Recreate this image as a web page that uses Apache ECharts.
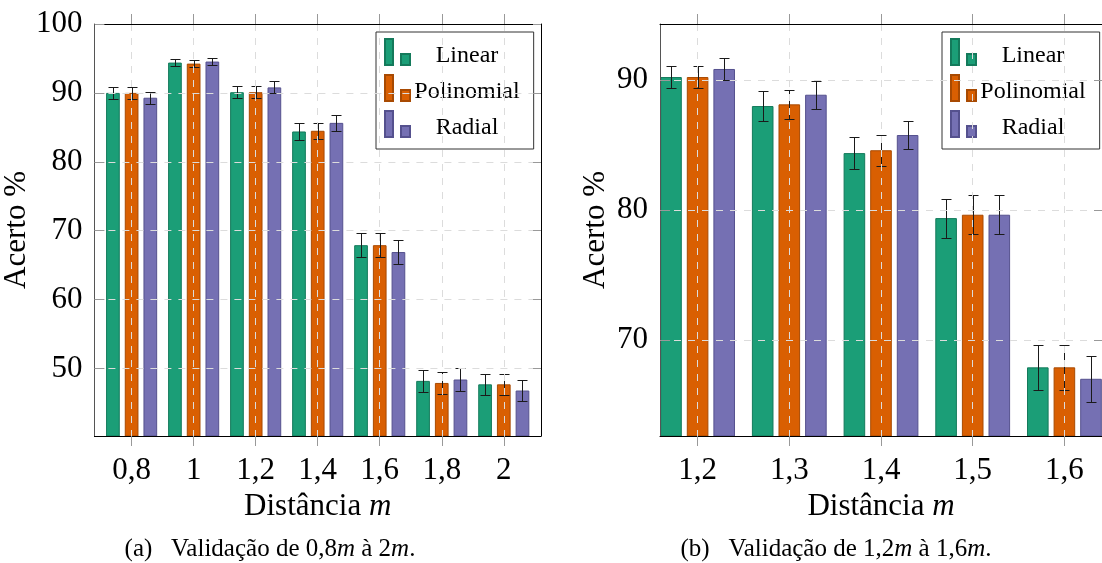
<!DOCTYPE html>
<html><head><meta charset="utf-8">
<script src="https://cdn.jsdelivr.net/npm/echarts@6/dist/echarts.min.js"></script>
<style>html,body{margin:0;padding:0;background:#fff}#c{width:1102px;height:563px}</style>
</head><body><div id="c"></div>
<script>
// ---------- data ----------
const seriesNames = ['Linear', 'Polinomial', 'Radial'];

// (a) Validação de 0,8m à 2m
const distA = [0.8, 1.0, 1.2, 1.4, 1.6, 1.8, 2.0];
const distLabelsA = ['0,8', '1', '1,2', '1,4', '1,6', '1,8', '2'];
const linearA = [90.0, 94.4, 90.1, 84.4, 67.9, 48.2, 47.7];
const linearErrA = [0.88, 0.5, 0.85, 1.2, 1.75, 1.6, 1.5];
const polinomialA = [90.0, 94.25, 90.1, 84.5, 67.9, 47.9, 47.7];
const polinomialErrA = [0.88, 0.48, 0.85, 1.2, 1.75, 1.65, 1.5];
const radialA = [89.3, 94.55, 90.8, 85.65, 66.9, 48.4, 46.8];
const radialErrA = [0.87, 0.5, 0.87, 1.13, 1.8, 1.63, 1.58];
const yTicksA = [50, 60, 70, 80, 90, 100];

// (b) Validação de 1,2m à 1,6m
const distB = [1.2, 1.3, 1.4, 1.5, 1.6];
const distLabelsB = ['1,2', '1,3', '1,4', '1,5', '1,6'];
const linearB = [90.23, 88.0, 84.38, 79.38, 67.9];
const linearErrB = [0.87, 1.12, 1.2, 1.5, 1.73];
const polinomialB = [90.23, 88.13, 84.6, 79.64, 67.9];
const polinomialErrB = [0.87, 1.12, 1.18, 1.5, 1.73];
const radialB = [90.85, 88.87, 85.77, 79.64, 67.02];
const radialErrB = [0.82, 1.08, 1.09, 1.5, 1.77];
const yTicksB = [70, 80, 90];

// ---------- style ----------
const colors = ['#1b9e77', '#d95f02', '#7570b3'];
const borderColors = ['#147a5b', '#a84a02', '#55518e'];
const FONT = 'Liberation Serif';

const chart = echarts.init(document.getElementById('c'), null, {renderer: 'canvas'});

function labelFor(ticks, labels) {
  return function (v) {
    for (let i = 0; i < ticks.length; i++) if (Math.abs(ticks[i] - v) < 1e-6) return labels[i];
    return '';
  };
}

function xAxes(ticks, labels, min, max, gridIndex) {
  const common = {type: 'value', gridIndex: gridIndex, min: min, max: max, z: 10};
  return [
    Object.assign({}, common, {
      position: 'bottom',
      name: 'Distância {i|m}',
      nameLocation: 'middle',
      nameGap: 42,
      nameTextStyle: {fontFamily: FONT, fontSize: 31, color: '#000',
        rich: {i: {fontFamily: FONT, fontSize: 31, fontStyle: 'italic', color: '#000'}}},
      axisLine: {show: true, lineStyle: {color: '#000', width: 1}},
      axisTick: {show: true, inside: false, length: 10, customValues: ticks, lineStyle: {color: '#999'}},
      axisLabel: {show: true, customValues: ticks, margin: 19, formatter: labelFor(ticks, labels),
        fontFamily: FONT, fontSize: 31, color: '#000'},
      splitLine: {show: true, lineStyle: {color: '#dcdcdc', width: 1, type: [7, 7]}}
    }),
    Object.assign({}, common, {
      position: 'top',
      axisLine: {show: true, lineStyle: {color: '#000', width: 1}},
      axisTick: {show: true, inside: false, length: 10, customValues: ticks, lineStyle: {color: '#999'}},
      axisLabel: {show: false},
      splitLine: {show: false}
    })
  ];
}

function yAxes(ticks, min, max, gridIndex) {
  const common = {type: 'value', gridIndex: gridIndex, min: min, max: max, z: 10};
  return [
    Object.assign({}, common, {
      position: 'left',
      name: 'Acerto %',
      nameLocation: 'middle',
      nameGap: 49,
      nameRotate: 90,
      nameTextStyle: {fontFamily: FONT, fontSize: 31, color: '#000'},
      axisLine: {show: true, lineStyle: {color: '#555', width: 1}},
      axisTick: {show: true, inside: true, length: 10, customValues: ticks, lineStyle: {color: '#999'}},
      axisLabel: {show: true, customValues: ticks, margin: 12, fontFamily: FONT, fontSize: 31, color: '#000'},
      splitLine: {show: true, lineStyle: {color: '#dcdcdc', width: 1, type: [7, 7]}}
    }),
    Object.assign({}, common, {
      position: 'right',
      axisLine: {show: true, lineStyle: {color: '#000', width: 1}},
      axisTick: {show: true, inside: true, length: 8, customValues: ticks, lineStyle: {color: '#999'}},
      axisLabel: {show: false},
      splitLine: {show: false}
    })
  ];
}

function barSeries(xs, vals, idx, xAxisIndex, yAxisIndex, barWidth, barGap) {
  return {
    type: 'bar',
    name: seriesNames[idx],
    xAxisIndex: xAxisIndex, yAxisIndex: yAxisIndex,
    data: xs.map((x, i) => [x, vals[i]]),
    barWidth: barWidth,
    barGap: barGap,
    itemStyle: {color: colors[idx], borderColor: borderColors[idx], borderWidth: 1},
    emphasis: {disabled: true},
    z: 2
  };
}

function errSeries(xs, vals, errs, idx, xAxisIndex, yAxisIndex, pitch) {
  return {
    type: 'custom',
    xAxisIndex: xAxisIndex, yAxisIndex: yAxisIndex,
    clip: true,
    z: 5,
    data: xs.map((x, i) => [x, vals[i] - errs[i], vals[i] + errs[i]]),
    renderItem: function (params, api) {
      const x = api.value(0);
      const top = api.coord([x, api.value(2)]);
      const bot = api.coord([x, api.value(1)]);
      const cx = Math.round(top[0] + (idx - 1) * pitch) + 0.5;
      const yt = Math.round(top[1]) + 0.5, yb = Math.round(bot[1]) + 0.5;
      const hw = 5;
      const st = {stroke: '#1a1a1a', lineWidth: 1};
      return {type: 'group', children: [
        {type: 'line', shape: {x1: cx, y1: yt, x2: cx, y2: yb}, style: st},
        {type: 'line', shape: {x1: cx - hw, y1: yt, x2: cx + hw, y2: yt}, style: st},
        {type: 'line', shape: {x1: cx - hw, y1: yb, x2: cx + hw, y2: yb}, style: st}
      ]};
    }
  };
}

function legendFor(left) {
  return {
    orient: 'vertical',
    left: left, top: 32,
    padding: [6, 14, 3, 8],
    itemGap: 0,
    itemWidth: 25, itemHeight: 34,
    // two small bars in the upper part of a 25x34 box (last subpath is an empty point that sets the box)
    icon: 'path://M0,0H8V26H0Z M16,15H25V26H16Z M25,34Z',
    backgroundColor: '#fff',
    borderColor: '#333', borderWidth: 1,
    borderRadius: 0,
    selectedMode: false,
    data: seriesNames,
    formatter: '{c|{name}}',
    textStyle: {fontFamily: FONT, fontSize: 24, color: '#000',
      rich: {c: {width: 104, align: 'center', fontFamily: FONT, fontSize: 24, color: '#000'}}}
  };
}

const pitchA = 18.7, pitchB = 26.6;
const bwA = 13.7, bwB = 21.6;

const capStyle = {fontFamily: FONT, fontSize: 25, fill: '#000', align: 'center', verticalAlign: 'middle',
  rich: {i: {fontFamily: FONT, fontSize: 25, fontStyle: 'italic', fill: '#000'}}};

const option = {
  animation: false,
  backgroundColor: '#fff',
  grid: [
    {left: 94, top: 24, width: 447, height: 412, containLabel: false},
    {left: 660, top: 24, width: 448, height: 412, containLabel: false}
  ],
  xAxis: [].concat(xAxes(distA, distLabelsA, 0.68, 2.12, 0), xAxes(distB, distLabelsB, 1.159, 1.641, 1)),
  yAxis: [].concat(yAxes(yTicksA, 40.2, 100, 0), yAxes(yTicksB, 62.62, 94.31, 1)),
  legend: [legendFor(376), legendFor(942)],
  series: [
    barSeries(distA, linearA, 0, 0, 0, bwA, ((pitchA - bwA) / bwA * 100) + '%'),
    barSeries(distA, polinomialA, 1, 0, 0, bwA, ((pitchA - bwA) / bwA * 100) + '%'),
    barSeries(distA, radialA, 2, 0, 0, bwA, ((pitchA - bwA) / bwA * 100) + '%'),
    barSeries(distB, linearB, 0, 2, 2, bwB, ((pitchB - bwB) / bwB * 100) + '%'),
    barSeries(distB, polinomialB, 1, 2, 2, bwB, ((pitchB - bwB) / bwB * 100) + '%'),
    barSeries(distB, radialB, 2, 2, 2, bwB, ((pitchB - bwB) / bwB * 100) + '%'),
    errSeries(distA, linearA, linearErrA, 0, 0, 0, pitchA),
    errSeries(distA, polinomialA, polinomialErrA, 1, 0, 0, pitchA),
    errSeries(distA, radialA, radialErrA, 2, 0, 0, pitchA),
    errSeries(distB, linearB, linearErrB, 0, 2, 2, pitchB),
    errSeries(distB, polinomialB, polinomialErrB, 1, 2, 2, pitchB),
    errSeries(distB, radialB, radialErrB, 2, 2, 2, pitchB)
  ],
  graphic: [
    {type: 'text', x: 270, y: 549, style: Object.assign({}, capStyle,
      {text: '(a)\u2002 Validação de 0,8{i|m} à 2{i|m}.'})},
    {type: 'text', x: 836, y: 549, style: Object.assign({}, capStyle,
      {text: '(b)\u2002 Validação de 1,2{i|m} à 1,6{i|m}.'})}
  ]
};
chart.setOption(option);
</script>
</body></html>
